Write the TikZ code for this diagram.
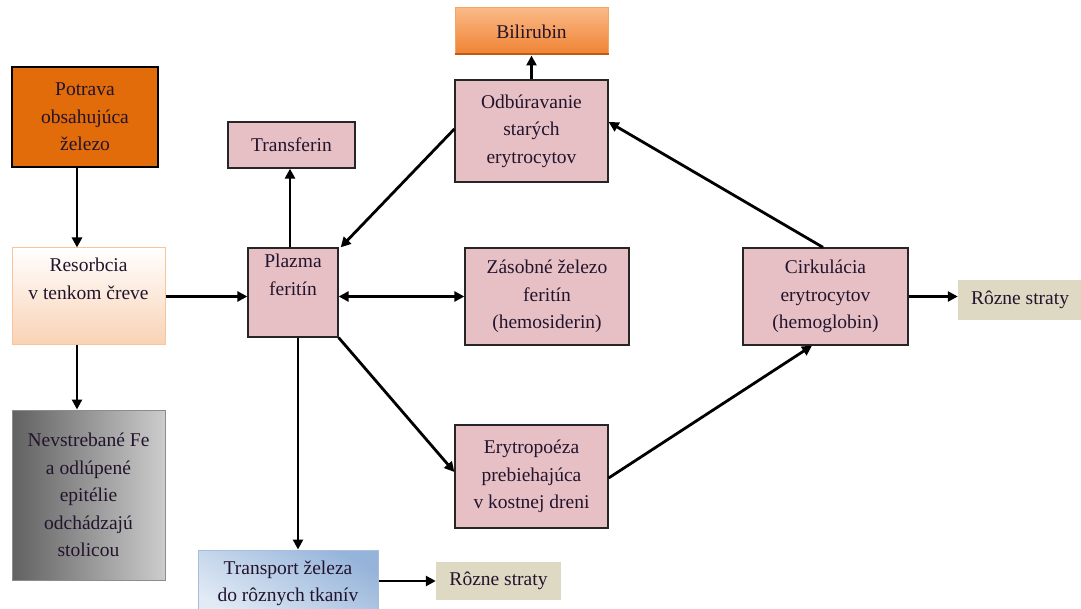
\documentclass[tikz,border=0pt]{standalone}
\usepackage{fontspec}
\setmainfont{Liberation Serif}
\newfontfamily\tmsfont{Liberation Serif}
\usetikzlibrary{arrows.meta}
\definecolor{pinkbox}{RGB}{230,192,196}
\definecolor{potfill}{RGB}{226,107,10}
\definecolor{resborder}{RGB}{249,196,155}
\definecolor{resbottom}{RGB}{249,210,180}
\definecolor{biltop}{RGB}{250,185,135}
\definecolor{bilbottom}{RGB}{240,130,50}
\definecolor{bilborder}{RGB}{244,165,100}
\definecolor{bilshadow}{RGB}{190,90,20}
\definecolor{tratop}{RGB}{150,180,218}
\definecolor{trabottom}{RGB}{225,234,245}
\definecolor{traborder}{RGB}{165,190,222}
\definecolor{lossfill}{RGB}{221,217,195}
\definecolor{textcol}{RGB}{35,20,45}
\begin{document}
\begin{tikzpicture}[x=1pt,y=-1pt,
  font=\tmsfont\fontsize{19.5}{27.5}\selectfont,
  every node/.style={text=textcol},
  base/.style={align=center, inner sep=0pt},
  pinkb/.style={base, fill=pinkbox, draw=black!85, line width=1.3pt},
  arr/.style={line width=2.8pt, -{Triangle[length=10pt,width=10pt]}},
  arrtwo/.style={line width=2.8pt, {Triangle[length=10pt,width=10pt]}-{Triangle[length=10pt,width=10pt]}}
]
\clip (0,0) rectangle (1081,609);
\fill[white] (0,0) rectangle (1081,609);

\node[base, fill=potfill, draw=black, line width=1.3pt, minimum width=146pt, minimum height=100pt] (pot) at (85,117) {Potrava\\obsahujúca\\železo};
\node[base, top color=white, bottom color=resbottom, draw=resborder, line width=1pt, minimum width=153pt, minimum height=97pt] (res) at (88.5,296.5) {Resorbcia\\v tenkom čreve\\\strut};
\node[base, left color=black!62, right color=black!20, draw=black!45, line width=1pt, minimum width=153pt, minimum height=170pt] (nev) at (88.5,495) {Nevstrebané Fe\\a odlúpené\\epitélie\\odchádzajú\\stolicou};
\node[pinkb, minimum width=127pt, minimum height=46pt] (trf) at (291.5,145) {Transferin};
\node[pinkb, minimum width=90pt, minimum height=89pt] (pla) at (293,292.5) {Plazma\\feritín\\\strut};
\node[pinkb, minimum width=153pt, minimum height=102pt] (odb) at (531.5,131) {Odbúravanie\\starých\\erytrocytov};
\node[base, top color=biltop, bottom color=bilbottom, draw=bilborder, line width=1pt, minimum width=153pt, minimum height=47pt] (bil) at (531.5,31.5) {Bilirubin};
\draw[bilshadow, line width=2pt] ([yshift=1pt]bil.south west) -- ([yshift=1pt]bil.south east);
\node[pinkb, minimum width=164pt, minimum height=97pt] (zas) at (547,296.5) {Zásobné železo\\feritín\\(hemosiderin)};
\node[pinkb, minimum width=153pt, minimum height=103pt] (ery) at (531.5,476.5) {Erytropoéza\\prebiehajúca\\v kostnej dreni};
\node[pinkb, minimum width=165pt, minimum height=97pt] (cir) at (825.5,296.5) {Cirkulácia\\erytrocytov\\(hemoglobin)};
\node[base, fill=lossfill, minimum width=124pt, minimum height=40pt] (rsa) at (1020,300) {Rôzne straty};
\node[base, bottom color=trabottom, top color=tratop, shading angle=-30, draw=traborder, line width=1pt, minimum width=180pt, minimum height=67pt] (tra) at (288,583.5) {Transport železa\\do rôznych tkanív};
\node[base, fill=lossfill, minimum width=125pt, minimum height=38pt] (rsb) at (498.5,581) {Rôzne straty};

\draw[arr] ([xshift=-8pt]pot.south) -- ([xshift=-11.5pt]res.north);
\draw[arr] ([xshift=-11.5pt]res.south) -- ([xshift=-11.5pt]nev.north);
\draw[arr] (res.east) -- (res.east -| pla.west);
\draw[arr] ([xshift=-3pt]pla.north) -- ([xshift=-1.5pt]trf.south);
\draw[arr] ([yshift=2pt]odb.west) -- ([xshift=2pt]pla.north east);
\draw[arrtwo] (pla.east |- zas.west) -- (zas.west);
\draw[arr] (pla.south east) -- ([yshift=4.5pt]ery.west);
\draw[arr] ([xshift=5pt]pla.south) -- ([xshift=10pt]tra.north);
\draw[arr] ([yshift=-1.5pt]ery.east) -- ([xshift=-13.5pt]cir.south);
\draw[arr] ([xshift=-2.5pt]cir.north) -- ([yshift=9pt]odb.east);
\draw[arr] (odb.north) -- (bil.south);
\draw[arr] (cir.east) -- (cir.east -| rsa.west);
\draw[arr] (rsb.west -| tra.east) -- (rsb.west);
\end{tikzpicture}
\end{document}
